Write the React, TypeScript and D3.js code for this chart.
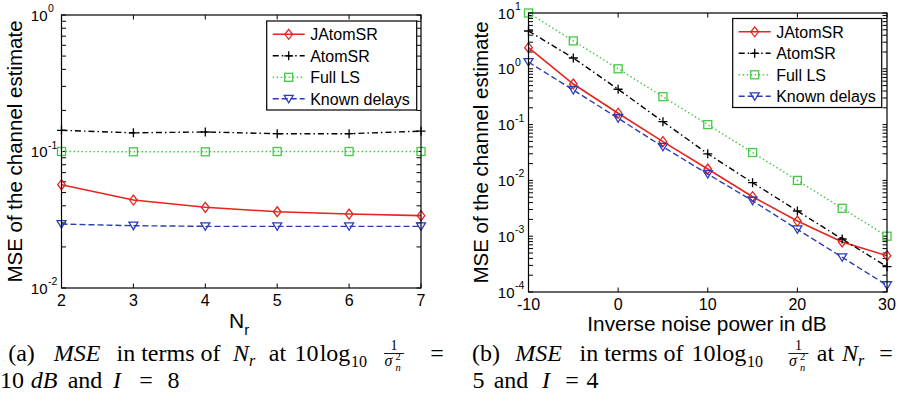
import React from "react";
import * as d3 from "d3";

// ---------- data ----------
const nrValues = [2, 3, 4, 5, 6, 7];
const nrJAtomSR = [0.0571, 0.0441, 0.039, 0.0362, 0.0348, 0.0339];
const nrAtomSR = [0.143, 0.137, 0.139, 0.135, 0.135, 0.141];
const nrFullLS = [0.1, 0.0995, 0.0995, 0.1, 0.1, 0.1];
const nrKnown = [0.0294, 0.0286, 0.0283, 0.0283, 0.0283, 0.0283];

const snrValues = [-10, -5, 0, 5, 10, 15, 20, 25, 30];
const snrJAtomSR = [2.39, 0.534, 0.16, 0.0494, 0.016, 0.0051, 0.00187, 0.00079, 0.000448];
const snrAtomSR = [4.76, 1.56, 0.43, 0.113, 0.03, 0.0091, 0.00283, 0.00089, 0.000284];
const snrFullLS = [10, 3.16, 1, 0.316, 0.1, 0.0316, 0.01, 0.00316, 0.001];
const snrKnown = [1.32, 0.417, 0.13, 0.04, 0.013, 0.00432, 0.00133, 0.000419, 0.000132];

const seriesNames = ["JAtomSR", "AtomSR", "Full LS", "Known delays"];
const seriesColors = ["#e5251e", "#000000", "#45c845", "#2a3db5"];
const seriesDash = [null, "6,3,1.5,3", "1.5,2.5", "6,3"];
const seriesMarkers = ["diamond", "plus", "square", "triangle"];

const nrTicks = [2, 3, 4, 5, 6, 7];
const snrTicks = [-10, 0, 10, 20, 30];

const SANS = "'Liberation Sans', Arial, Helvetica, sans-serif";
const SERIF = "'Liberation Serif', 'Times New Roman', serif";

function Marker({ type, x, y, color }: any) {
  const common = { fill: "none", stroke: color, strokeWidth: 1.3 };
  if (type === "diamond")
    return <path d={`M${x},${y - 5}L${x + 3.8},${y}L${x},${y + 5}L${x - 3.8},${y}Z`} {...common} />;
  if (type === "plus")
    return <path d={`M${x - 4.5},${y}H${x + 4.5}M${x},${y - 4.5}V${y + 4.5}`} {...common} />;
  if (type === "square")
    return <rect x={x - 4} y={y - 4} width={8} height={8} {...common} />;
  return <path d={`M${x - 4.5},${y - 3.5}L${x + 4.5},${y - 3.5}L${x},${y + 4}Z`} {...common} />;
}

function Panel({ xDomain, xRange, yDomain, yRange, xs, series, xTicks, legend, yExpLo, yExpHi, xLabel, yLabelX }: any) {
  const x = d3.scaleLinear().domain(xDomain).range(xRange);
  const y = d3.scaleLog().domain(yDomain).range(yRange);
  const [x0, x1] = xRange;
  const [yb, yt] = yRange;
  const tl = 4.5;
  const line = d3
    .line<number>()
    .x((_, i) => x(xs[i]))
    .y((d) => y(d));

  const majors: number[] = [];
  const minors: number[] = [];
  for (let k = yExpLo; k <= yExpHi; k++) {
    majors.push(k);
    if (k < yExpHi) for (let m = 2; m <= 9; m++) minors.push(m * Math.pow(10, k));
  }

  return (
    <g>
      {xTicks.map((t: number) => (
        <g key={"xt" + t}>
          <line x1={x(t)} x2={x(t)} y1={yb} y2={yb - tl} stroke="#000" />
          <line x1={x(t)} x2={x(t)} y1={yt} y2={yt + tl} stroke="#000" />
          <text x={x(t)} y={yb + 18} textAnchor="middle" fontFamily={SANS} fontSize={16}>
            {t}
          </text>
        </g>
      ))}
      {minors.map((v: number, i: number) => (
        <g key={"mn" + i}>
          <line x1={x0} x2={x0 + tl} y1={y(v)} y2={y(v)} stroke="#000" />
          <line x1={x1} x2={x1 - tl} y1={y(v)} y2={y(v)} stroke="#000" />
        </g>
      ))}
      {majors.map((k: number) => (
        <g key={"mj" + k}>
          <line x1={x0} x2={x0 + tl} y1={y(Math.pow(10, k))} y2={y(Math.pow(10, k))} stroke="#000" />
          <line x1={x1} x2={x1 - tl} y1={y(Math.pow(10, k))} y2={y(Math.pow(10, k))} stroke="#000" />
          <text y={y(Math.pow(10, k)) + 5.5} fontFamily={SANS} fontSize={15}>
            <tspan x={x0 - 14} textAnchor="end">10</tspan>
            <tspan x={x0 - 13.5} dy={-8.5} fontSize={10.5}>
              {k < 0 ? "-" + -k : String(k)}
            </tspan>
          </text>
        </g>
      ))}
      {series.map((s: number[], si: number) => (
        <g key={"s" + si}>
          <path
            d={line(s) as string}
            fill="none"
            stroke={seriesColors[si]}
            strokeWidth={si === 0 ? 1.6 : 1.4}
            strokeDasharray={seriesDash[si] || undefined}
          />
          {s.map((v: number, i: number) => (
            <Marker key={i} type={seriesMarkers[si]} x={x(xs[i])} y={y(v)} color={seriesColors[si]} />
          ))}
        </g>
      ))}
      <rect x={x0} y={yt} width={x1 - x0} height={yb - yt} fill="none" stroke="#000" strokeWidth={1.2} />
      <rect x={legend.x} y={legend.y} width={legend.w} height={legend.h} fill="#fff" stroke="#000" strokeWidth={1.2} />
      {seriesNames.map((n, i) => {
        const ly = legend.y + 13.3 + i * 21.5;
        return (
          <g key={"lg" + i}>
            <line
              x1={legend.x + 6}
              x2={legend.x + 38}
              y1={ly}
              y2={ly}
              stroke={seriesColors[i]}
              strokeWidth={1.4}
              strokeDasharray={seriesDash[i] || undefined}
            />
            <Marker type={seriesMarkers[i]} x={legend.x + 22} y={ly} color={seriesColors[i]} />
            <text x={legend.x + 43.5} y={ly + 5.8} fontFamily={SANS} fontSize={16}>
              {n}
            </text>
          </g>
        );
      })}
      <text
        transform={`translate(${yLabelX},${(yt + yb) / 2}) rotate(-90)`}
        textAnchor="middle"
        fontFamily={SANS}
        fontSize={20.5}
      >
        MSE of the channel estimate
      </text>
      {xLabel}
    </g>
  );
}

// caption helpers
function Seg({ x, y, italic, size, anchor, children }: any) {
  return (
    <text
      x={x}
      y={y}
      fontFamily={SERIF}
      fontSize={size || 24}
      fontStyle={italic ? "italic" : undefined}
      textAnchor={anchor || "middle"}
      fill="#000"
    >
      {children}
    </text>
  );
}

function Frac({ x, y }: any) {
  // 1 / sigma_n^2 ; x = left edge, y = baseline of the caption line
  return (
    <g>
      <line x1={x} x2={x + 20} y1={y - 7.5} y2={y - 7.5} stroke="#000" strokeWidth={0.9} />
      <text fontFamily={SERIF} fill="#000">
        <tspan x={x + 10} y={y - 11.5} fontSize={14} textAnchor="middle">1</tspan>
        <tspan x={x + 0.5} y={y + 4.5} fontSize={16} fontStyle="italic">σ</tspan>
        <tspan x={x + 11.5} y={y - 1.5} fontSize={10.5}>2</tspan>
        <tspan x={x + 11.5} y={y + 9.5} fontSize={10.5} fontStyle="italic">n</tspan>
      </text>
    </g>
  );
}

export default function App() {
  const L1 = 361;
  const L2 = 388;
  return (
    <svg
      width={917}
      height={404}
      viewBox="0 0 917 404"
      style={{ position: "absolute", left: 0, top: 0, display: "block", background: "#fff" }}
    >
      <rect width={917} height={404} fill="#fff" />
      <Panel
        xDomain={[2, 7]}
        xRange={[61.5, 421]}
        yDomain={[0.01, 1]}
        yRange={[288, 15]}
        xs={nrValues}
        series={[nrJAtomSR, nrAtomSR, nrFullLS, nrKnown]}
        xTicks={nrTicks}
        yExpLo={-2}
        yExpHi={0}
        legend={{ x: 266.7, y: 21, w: 150, h: 89 }}
        yLabelX={21.5}
        xLabel={
          <text x={229} y={328} fontFamily={SANS} fontSize={21}>
            N
            <tspan fontSize={15} dy={7}>
              r
            </tspan>
          </text>
        }
      />
      <Panel
        xDomain={[-10, 30]}
        xRange={[528.5, 887]}
        yDomain={[1e-4, 10]}
        yRange={[292, 13]}
        xs={snrValues}
        series={[snrJAtomSR, snrAtomSR, snrFullLS, snrKnown]}
        xTicks={snrTicks}
        yExpLo={-4}
        yExpHi={1}
        legend={{ x: 732.7, y: 18.5, w: 149, h: 89 }}
        yLabelX={488}
        xLabel={
          <text x={707} y={331} textAnchor="middle" fontFamily={SANS} fontSize={20.8}>
            Inverse noise power in dB
          </text>
        }
      />
      {/* caption (a) */}
      <Seg x={21.5} y={L1}>(a)</Seg>
      <Seg x={77} y={L1} italic>MSE</Seg>
      <Seg x={168.5} y={L1}>in terms of</Seg>
      <Seg x={249} y={L1} italic anchor="end">N</Seg>
      <Seg x={249} y={L1 + 5} size={16} italic anchor="start">r</Seg>
      <Seg x={277.5} y={L1}>at</Seg>
      <Seg x={306.5} y={L1}>10</Seg>
      <Seg x={335} y={L1}>log</Seg>
      <Seg x={351} y={L1 + 5.5} size={16} anchor="start">10</Seg>
      <Frac x={384} y={L1} />
      <Seg x={437} y={L1}>=</Seg>
      <Seg x={12} y={L2}>10</Seg>
      <Seg x={44} y={L2} italic>dB</Seg>
      <Seg x={85} y={L2}>and</Seg>
      <Seg x={117} y={L2} italic>I</Seg>
      <Seg x={146} y={L2}>=</Seg>
      <Seg x={173.5} y={L2}>8</Seg>
      {/* caption (b) */}
      <Seg x={486} y={L1}>(b)</Seg>
      <Seg x={538.5} y={L1} italic>MSE</Seg>
      <Seg x={631.5} y={L1}>in terms of</Seg>
      <Seg x={703.5} y={L1}>10</Seg>
      <Seg x={731} y={L1}>log</Seg>
      <Seg x={747} y={L1 + 5.5} size={16} anchor="start">10</Seg>
      <Frac x={788.5} y={L1} />
      <Seg x={825.5} y={L1}>at</Seg>
      <Seg x={858} y={L1} italic anchor="end">N</Seg>
      <Seg x={858} y={L1 + 5} size={16} italic anchor="start">r</Seg>
      <Seg x={886} y={L1}>=</Seg>
      <Seg x={478.5} y={L2}>5</Seg>
      <Seg x={511} y={L2}>and</Seg>
      <Seg x={546} y={L2} italic>I</Seg>
      <Seg x={572} y={L2}>=</Seg>
      <Seg x={592.5} y={L2}>4</Seg>
    </svg>
  );
}
